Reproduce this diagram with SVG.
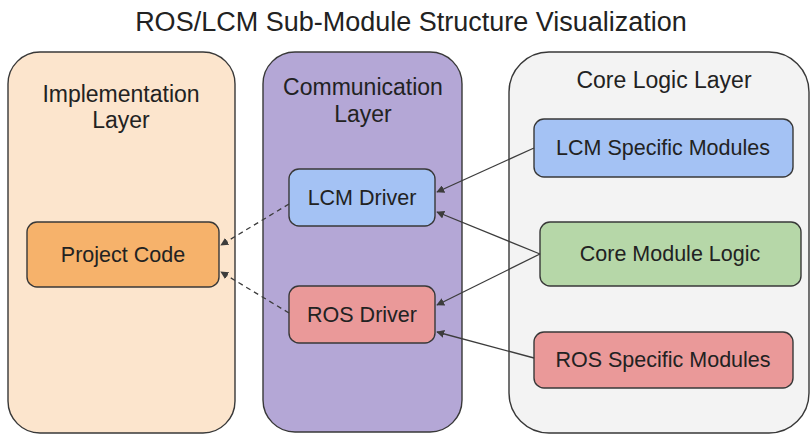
<svg xmlns="http://www.w3.org/2000/svg" width="812" height="436" viewBox="0 0 812 436">
  <style>
    .t { font-family: "Liberation Sans", Arial, sans-serif; fill: #222; text-anchor: middle; }
    .title { font-size: 27px; }
    .layer { font-size: 23px; }
    .node { font-size: 21.5px; }
    .box { stroke: #383838; stroke-width: 1.4; }
    .edge { fill: none; stroke: #3c3c3c; stroke-width: 1.3; }
    .dash { stroke-dasharray: 5 4; }
  </style>
  <defs>
    <marker id="arrow" viewBox="0 0 10 10" refX="9" refY="5" markerWidth="8" markerHeight="8" markerUnits="userSpaceOnUse" orient="auto">
      <path d="M0,0 L10,5 L0,10 z" fill="#3c3c3c"/>
    </marker>
  </defs>
  <rect width="812" height="436" fill="#ffffff"/>

  <text class="t title" x="411" y="31">ROS/LCM Sub-Module Structure Visualization</text>

  <!-- layers -->
  <g id="implementation-layer">
    <rect class="box" x="8" y="52" width="227" height="381" rx="32" fill="#fce5cd"/>
    <text class="t layer" x="121" y="102">Implementation</text>
    <text class="t layer" x="121" y="128">Layer</text>
  </g>
  <g id="communication-layer">
    <rect class="box" x="263" y="52" width="199" height="380" rx="32" fill="#b4a7d6"/>
    <text class="t layer" x="363" y="95">Communication</text>
    <text class="t layer" x="363" y="122">Layer</text>
  </g>
  <g id="core-logic-layer">
    <rect class="box" x="509" y="52" width="300" height="381" rx="40" fill="#f3f3f3"/>
    <text class="t layer" x="664" y="88">Core Logic Layer</text>
  </g>

  <!-- nodes -->
  <g id="project-code">
    <rect class="box" x="27" y="222" width="192" height="65" rx="10" fill="#f6b26b"/>
    <text class="t node" x="123" y="262">Project Code</text>
  </g>
  <g id="lcm-driver">
    <rect class="box" x="289" y="169" width="146" height="57" rx="10" fill="#a4c2f4"/>
    <text class="t node" x="362" y="205">LCM Driver</text>
  </g>
  <g id="ros-driver">
    <rect class="box" x="289" y="286" width="146" height="57" rx="10" fill="#ea9999"/>
    <text class="t node" x="362" y="322">ROS Driver</text>
  </g>
  <g id="lcm-specific-modules">
    <rect class="box" x="534" y="119" width="259" height="58" rx="10" fill="#a4c2f4"/>
    <text class="t node" x="663" y="155">LCM Specific Modules</text>
  </g>
  <g id="core-module-logic">
    <rect class="box" x="540" y="222" width="261" height="64" rx="10" fill="#b6d7a8"/>
    <text class="t node" x="670" y="261">Core Module Logic</text>
  </g>
  <g id="ros-specific-modules">
    <rect class="box" x="534" y="332" width="259" height="56" rx="10" fill="#ea9999"/>
    <text class="t node" x="663" y="367">ROS Specific Modules</text>
  </g>

  <!-- connectors -->
  <g id="connectors">
    <line class="edge" x1="534" y1="148" x2="437" y2="192" marker-end="url(#arrow)"/>
    <line class="edge" x1="540" y1="254" x2="437" y2="212" marker-end="url(#arrow)"/>
    <line class="edge" x1="540" y1="254" x2="437" y2="305" marker-end="url(#arrow)"/>
    <line class="edge" x1="534" y1="358" x2="437" y2="332" marker-end="url(#arrow)"/>
    <line class="edge dash" x1="289" y1="204" x2="221" y2="245" marker-end="url(#arrow)"/>
    <line class="edge dash" x1="289" y1="313" x2="221" y2="272" marker-end="url(#arrow)"/>
  </g>
</svg>
